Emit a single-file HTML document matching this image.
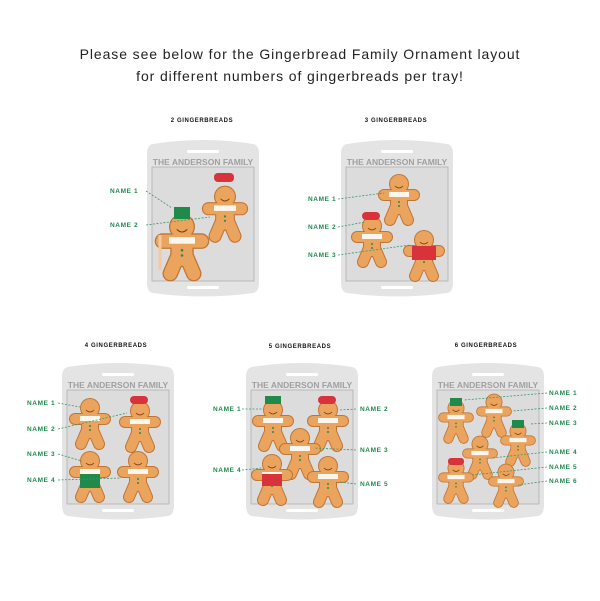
<!DOCTYPE html>
<html><head><meta charset="utf-8"><style>
html,body{margin:0;padding:0;background:#fff;width:600px;height:601px;overflow:hidden}
svg{display:block}
.t{font-family:"Liberation Sans",sans-serif;font-size:14px;fill:#222;letter-spacing:0.9px}
.h{font-family:"Liberation Sans",sans-serif;font-size:6px;font-weight:bold;fill:#111;letter-spacing:0.6px}
.n{font-family:"Liberation Sans",sans-serif;font-size:6.5px;font-weight:bold;fill:#1e8a4e;letter-spacing:0.6px}
.f{font-family:"Liberation Sans",sans-serif;font-size:8.5px;font-weight:bold;fill:#a0a0a0}
.d{stroke:#3a9a6a;stroke-width:0.8;stroke-dasharray:2 1.5;fill:none}
</style></head><body>
<svg width="600" height="601" viewBox="0 0 600 601">
<defs>
<g id="gb">
<g stroke="#c07535" stroke-linecap="round" fill="none">
<line x1="-15" y1="-3" x2="15" y2="-3" stroke-width="12"/>
<line x1="0" y1="-3" x2="0" y2="8" stroke-width="18"/>
<line x1="-3" y1="8" x2="-9" y2="22" stroke-width="12"/>
<line x1="3" y1="8" x2="9" y2="22" stroke-width="12"/>
</g>
<circle cx="0" cy="-14" r="10" fill="#c07535"/>
<g stroke="#eba45e" stroke-linecap="round" fill="none">
<line x1="-15" y1="-3" x2="15" y2="-3" stroke-width="10"/>
<line x1="0" y1="-3" x2="0" y2="8" stroke-width="16"/>
<line x1="-3" y1="8" x2="-9" y2="22" stroke-width="10"/>
<line x1="3" y1="8" x2="9" y2="22" stroke-width="10"/>
</g>
<circle cx="0" cy="-14" r="9" fill="#eba45e"/>
<rect x="-10" y="-6" width="20" height="5" fill="#fff" opacity="0.9"/>
<circle cx="0" cy="4" r="1" fill="#2a8a50"/><circle cx="0" cy="8" r="1" fill="#2a8a50"/>
<path d="M-4,-12 q4,4 8,0" stroke="#7a3a10" stroke-width="0.8" fill="none"/>
</g>
<g id="tray">
<path d="M6,2 Q56,-6 106,2 Q112,3 112,12 L112,140 Q112,150 106,151 Q56,158 6,151 Q0,150 0,140 L0,12 Q0,3 6,2Z" fill="#e4e4e4"/>
<rect x="5" y="25" width="102" height="114" fill="#dcdcdc" stroke="#b0b0b0" stroke-width="0.8"/>
<rect x="40" y="8" width="32" height="3" rx="1.5" fill="#fff"/>
<rect x="40" y="144" width="32" height="3" rx="1.5" fill="#fff"/>
</g>
</defs>
<text class="t" x="300" y="59" text-anchor="middle">Please see below for the Gingerbread Family Ornament layout</text>
<text class="t" x="300" y="81" text-anchor="middle">for different numbers of gingerbreads per tray!</text>

<text class="h" x="202" y="122" text-anchor="middle">2 GINGERBREADS</text>
<text class="h" x="396" y="122" text-anchor="middle">3 GINGERBREADS</text>
<text class="h" x="116" y="347" text-anchor="middle">4 GINGERBREADS</text>
<text class="h" x="300" y="348" text-anchor="middle">5 GINGERBREADS</text>
<text class="h" x="486" y="347" text-anchor="middle">6 GINGERBREADS</text>

<use href="#tray" x="147" y="142"/>
<use href="#tray" x="341" y="142"/>
<use href="#tray" x="62" y="365"/>
<use href="#tray" x="246" y="365"/>
<use href="#tray" x="432" y="365"/>
<text class="f" x="203" y="165" text-anchor="middle">THE ANDERSON FAMILY</text>
<text class="f" x="397" y="165" text-anchor="middle">THE ANDERSON FAMILY</text>
<text class="f" x="118" y="388" text-anchor="middle">THE ANDERSON FAMILY</text>
<text class="f" x="302" y="388" text-anchor="middle">THE ANDERSON FAMILY</text>
<text class="f" x="488" y="388" text-anchor="middle">THE ANDERSON FAMILY</text>

<!-- 2 -->
<use href="#gb" transform="translate(225,212) scale(1.1)"/>
<rect x="214" y="173" width="20" height="9" rx="4" fill="#d8323a"/>
<use href="#gb" transform="translate(182,245) scale(1.3)"/>
<rect x="174" y="207" width="16" height="12" fill="#1f8a4a"/>
<line x1="160" y1="235" x2="160" y2="270" stroke="#f3c9a0" stroke-width="3"/>
<text class="n" x="110" y="193">NAME 1</text><text class="n" x="110" y="227">NAME 2</text>
<path class="d" d="M146,191 L172,208"/><path class="d" d="M146,225 L210,217"/>

<!-- 3 -->
<use href="#gb" transform="translate(399,198)"/>
<use href="#gb" transform="translate(372,240)"/>
<rect x="362" y="212" width="18" height="8" rx="4" fill="#d8323a"/>
<use href="#gb" transform="translate(424,254)"/>
<rect x="412" y="246" width="24" height="14" fill="#d8323a"/>
<text class="n" x="308" y="201">NAME 1</text><text class="n" x="308" y="229">NAME 2</text><text class="n" x="308" y="257">NAME 3</text>
<path class="d" d="M338,199 L384,193"/><path class="d" d="M338,227 L365,222"/><path class="d" d="M338,255 L410,245"/>

<!-- 4 -->
<use href="#gb" transform="translate(90,422)"/>
<use href="#gb" transform="translate(140,425)"/>
<rect x="130" y="396" width="18" height="8" rx="4" fill="#d8323a"/>
<use href="#gb" transform="translate(90,475)"/>
<rect x="80" y="474" width="20" height="14" fill="#1f8a4a"/>
<use href="#gb" transform="translate(138,475)"/>
<text class="n" x="27" y="405">NAME 1</text><text class="n" x="27" y="431">NAME 2</text><text class="n" x="27" y="456">NAME 3</text><text class="n" x="27" y="482">NAME 4</text>
<path class="d" d="M58,403 L80,407"/><path class="d" d="M58,429 L127,413"/><path class="d" d="M58,454 L82,461"/><path class="d" d="M58,480 L121,478"/>

<!-- 5 -->
<use href="#gb" transform="translate(273,424)"/>
<rect x="265" y="396" width="16" height="8" fill="#1f8a4a"/>
<use href="#gb" transform="translate(328,424)"/>
<rect x="318" y="396" width="18" height="8" rx="4" fill="#d8323a"/>
<use href="#gb" transform="translate(300,452)"/>
<use href="#gb" transform="translate(272,478)"/>
<rect x="262" y="474" width="20" height="12" fill="#d8323a"/>
<use href="#gb" transform="translate(328,480)"/>
<text class="n" x="213" y="411">NAME 1</text><text class="n" x="360" y="411">NAME 2</text><text class="n" x="360" y="452">NAME 3</text><text class="n" x="213" y="472">NAME 4</text><text class="n" x="360" y="486">NAME 5</text>
<path class="d" d="M242,409 L262,409"/><path class="d" d="M356,409 L340,410"/><path class="d" d="M356,450 L314,448"/><path class="d" d="M242,470 L262,468"/><path class="d" d="M356,484 L340,482"/>

<!-- 6 -->
<use href="#gb" transform="translate(456,420) scale(0.85)"/>
<rect x="450" y="398" width="12" height="8" fill="#1f8a4a"/>
<use href="#gb" transform="translate(494,414) scale(0.85)"/>
<use href="#gb" transform="translate(518,443) scale(0.85)"/>
<rect x="512" y="420" width="12" height="8" fill="#1f8a4a"/>
<use href="#gb" transform="translate(480,456) scale(0.85)"/>
<use href="#gb" transform="translate(456,480) scale(0.85)"/>
<rect x="448" y="458" width="16" height="7" rx="3" fill="#d8323a"/>
<use href="#gb" transform="translate(506,484) scale(0.85)"/>
<text class="n" x="549" y="395">NAME 1</text><text class="n" x="549" y="410">NAME 2</text><text class="n" x="549" y="425">NAME 3</text><text class="n" x="549" y="454">NAME 4</text><text class="n" x="549" y="469">NAME 5</text><text class="n" x="549" y="483">NAME 6</text>
<path class="d" d="M547,393 L464,400"/><path class="d" d="M547,408 L512,411"/><path class="d" d="M547,423 L530,424"/><path class="d" d="M547,452 L492,458"/><path class="d" d="M547,467 L472,475"/><path class="d" d="M547,481 L518,485"/>
</svg>
</body></html>
